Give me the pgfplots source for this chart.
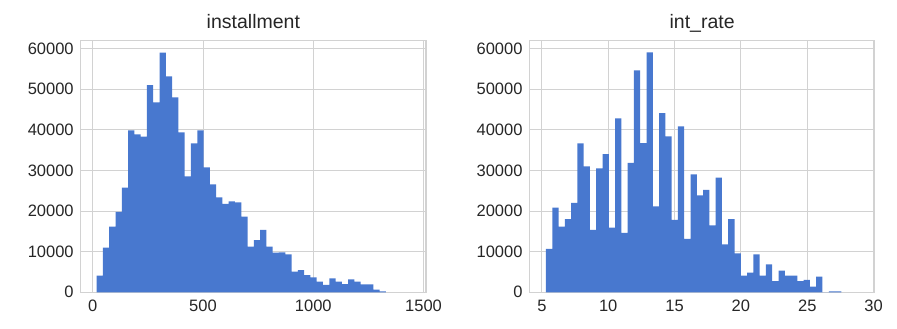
\documentclass[border=0pt]{standalone}
\usepackage{fontspec}
\setmainfont{Liberation Sans}
\usepackage{pgfplots}
\pgfplotsset{compat=1.18}
\definecolor{barblue}{RGB}{72,120,207}
\definecolor{gridgray}{RGB}{210,210,210}
\definecolor{txt}{RGB}{38,38,38}
\pgfplotsset{
  histo/.style={
    scale only axis,
    width=345.3pt, height=251.5pt,
    anchor=south west,
    ymin=0, ymax=61950,
    ytick={0,10000,...,60000},
    scaled y ticks=false,
    scaled x ticks=false,
    /pgf/number format/.cd, fixed, 1000 sep={}, assume math mode=true, /pgfplots/.cd,
    axis line style={draw=gridgray, line width=1.1pt},
    grid=major,
    major grid style={draw=gridgray, line width=0.9pt},
    major tick length=0pt,
    tick style={draw=none},
    tick label style={font=\fontsize{16.5}{19}\selectfont, text=txt},
    xticklabel style={yshift=-4.5pt},
    yticklabel style={xshift=-3.5pt},
    title style={at={(0.5,1)}, anchor=base, yshift=5.8pt, font=\fontsize{19.5}{23}\selectfont, text=txt},
  }
}
\begin{document}
\begin{tikzpicture}
\useasboundingbox (0,0) rectangle (897pt,329pt);
\begin{axis}[histo, at={(80.7pt,36.7pt)}, title={installment},
  xmin=-54.4, xmax=1511, xtick={0,500,1000,1500}]
\addplot[ybar interval, fill=barblue, draw=none] coordinates {
(18,4090) (46.5,10990) (75,16160) (103.5,19780) (132,25770)
(160.5,39900) (189,38920) (217.5,38330) (246,51060) (274.5,46800)
(303,59020) (331.5,53200) (360,48030) (388.5,39400) (417,28570)
(445.5,36700) (474,39900) (502.5,30790) (531,26600) (559.5,23400)
(588,21750) (616.5,22410) (645,22170) (673.5,18620) (702,11230)
(730.5,12880) (759,15350) (787.5,11230) (816,9750) (844.5,9850)
(873,9360) (901.5,5070) (930,5490) (958.5,4260) (987,3690)
(1015.5,2610) (1044,1800) (1072.5,3450) (1101,2610) (1129.5,2040)
(1158,3200) (1186.5,2610) (1215,1970) (1243.5,1970) (1272,650)
(1300.5,250) (1329,0)
};
\end{axis}
\begin{axis}[histo, at={(529.5pt,36.7pt)}, title={int\_rate},
  xmin=4.07, xmax=30.09, xtick={5,10,15,20,25,30}]
\addplot[ybar interval, fill=barblue, draw=none] coordinates {
(5.31,10670) (5.784,20840) (6.257,16160) (6.731,18050) (7.204,22000)
(7.678,36700) (8.152,31030) (8.625,15350) (9.099,30540) (9.572,34060)
(10.046,15910) (10.520,42860) (10.993,14610) (11.467,31850) (11.940,54680)
(12.414,36770) (12.888,59110) (13.361,21180) (13.835,44160) (14.308,38420)
(14.782,17810) (15.256,40890) (15.729,13130) (16.203,29060) (16.676,23890)
(17.150,25200) (17.624,16500) (18.097,28230) (18.571,11820) (19.044,18050)
(19.518,9610) (19.992,4090) (20.465,4830) (20.939,9360) (21.412,4090)
(21.886,6900) (22.360,2780) (22.833,5320) (23.307,4090) (23.780,4090)
(24.254,2780) (24.728,3030) (25.201,1380) (25.675,3840) (26.148,0)
(26.622,250) (27.096,250) (27.569,0)
};
\end{axis}
\end{tikzpicture}
\end{document}
